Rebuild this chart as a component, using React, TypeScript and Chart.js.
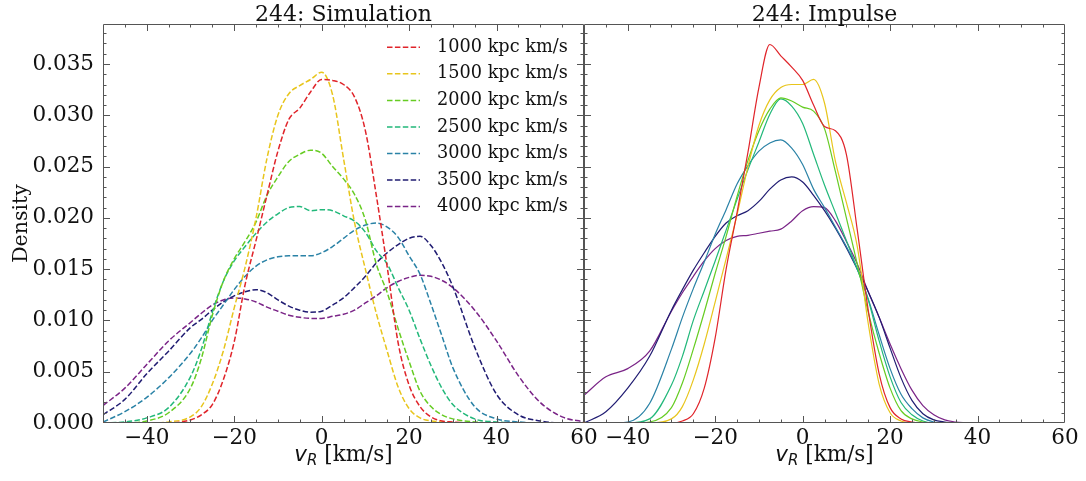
import { useEffect, useRef } from "react";
import { Chart, registerables } from "chart.js";

Chart.register(...registerables);

// ---------- data ----------
const seriesLabels = [
  "1000 kpc km/s",
  "1500 kpc km/s",
  "2000 kpc km/s",
  "2500 kpc km/s",
  "3000 kpc km/s",
  "3500 kpc km/s",
  "4000 kpc km/s",
];
const seriesColors = ["#e0242a", "#e8c51c", "#66cc22", "#22b87a", "#2a82a6", "#201c72", "#7a2487"];

const xSim = [-50, -45, -40, -35, -30, -27.5, -25, -22.5, -20, -17.5, -15, -12.5, -10, -7.5, -5, -2.5, 0, 2.5, 5, 7.5, 10, 12.5, 15, 17.5, 20, 22.5, 25, 27.5, 30, 35, 40, 45, 50, 55, 60];

const sim1000 = [0, 0, 0, 0, 0.0003, 0.0008, 0.0018, 0.0042, 0.0079, 0.0135, 0.0178, 0.0222, 0.0265, 0.0296, 0.0307, 0.0323, 0.0335, 0.0334, 0.033, 0.0318, 0.0285, 0.0222, 0.0152, 0.0078, 0.0037, 0.0016, 0.0006, 0.0002, 0.0001, 0, 0, 0, 0, 0, 0];
const sim1500 = [0, 0, 0, 0.0001, 0.0006, 0.0016, 0.0038, 0.007, 0.0112, 0.0152, 0.02, 0.0258, 0.03, 0.0321, 0.0329, 0.0335, 0.0342, 0.032, 0.0258, 0.0196, 0.015, 0.0107, 0.007, 0.0035, 0.0014, 0.0005, 0.0002, 0.0001, 0, 0, 0, 0, 0, 0, 0];
const sim2000 = [0, 0, 0.0002, 0.001, 0.0034, 0.0063, 0.0105, 0.0138, 0.016, 0.0177, 0.0196, 0.0222, 0.024, 0.0255, 0.0262, 0.0266, 0.0263, 0.025, 0.0238, 0.0223, 0.0198, 0.0155, 0.0127, 0.0092, 0.006, 0.0031, 0.0016, 0.0008, 0.0004, 0.0001, 0, 0, 0, 0, 0];
const sim2500 = [0, 0.0001, 0.0005, 0.0015, 0.0045, 0.0072, 0.0108, 0.0138, 0.0158, 0.0172, 0.0185, 0.0196, 0.0204, 0.021, 0.0211, 0.0207, 0.0208, 0.0207, 0.0202, 0.0197, 0.0186, 0.0168, 0.0155, 0.0132, 0.011, 0.0082, 0.0056, 0.0034, 0.0018, 0.0004, 0.0001, 0, 0, 0, 0];
const sim3000 = [0.0001, 0.0011, 0.0025, 0.0044, 0.0068, 0.0083, 0.01, 0.0115, 0.013, 0.0143, 0.0153, 0.0159, 0.0162, 0.0163, 0.0163, 0.0163, 0.0166, 0.0172, 0.018, 0.0188, 0.0193, 0.0195, 0.0191, 0.0181, 0.0163, 0.0145, 0.0116, 0.0085, 0.0054, 0.0016, 0.0004, 0.0001, 0, 0, 0];
const sim3500 = [0.0008, 0.0023, 0.0048, 0.007, 0.0093, 0.0101, 0.011, 0.0118, 0.0124, 0.0128, 0.013, 0.0127, 0.012, 0.0114, 0.011, 0.0108, 0.0109, 0.0115, 0.0122, 0.0132, 0.0143, 0.0156, 0.0166, 0.0174, 0.018, 0.0182, 0.0173, 0.0156, 0.0133, 0.0074, 0.0028, 0.0008, 0.0002, 0, 0];
const sim4000 = [0.0017, 0.0034, 0.0057, 0.008, 0.0098, 0.0107, 0.0115, 0.012, 0.0122, 0.0121, 0.0118, 0.0113, 0.0109, 0.0105, 0.0103, 0.0102, 0.0102, 0.0104, 0.0106, 0.011, 0.0117, 0.0124, 0.0132, 0.0138, 0.0142, 0.0144, 0.0143, 0.0139, 0.0132, 0.011, 0.008, 0.0046, 0.002, 0.0006, 0.0001];

const xImp = [-50, -45, -40, -35, -30, -27.5, -25, -22.5, -20, -17.5, -15, -12.5, -10, -7.5, -5, -2.5, 0, 2.5, 5, 7.5, 10, 12.5, 15, 17.5, 20, 22.5, 25, 27.5, 30, 32.5, 35, 37.5];

const imp1000 = [0, 0, 0, 0, 0, 0.0002, 0.0009, 0.0034, 0.0083, 0.015, 0.0205, 0.0264, 0.0327, 0.0369, 0.0358, 0.0347, 0.0334, 0.031, 0.0289, 0.0285, 0.0262, 0.0188, 0.011, 0.0048, 0.0015, 0.0004, 0.0001, 0, 0, 0, 0, 0];
const imp1500 = [0, 0, 0, 0, 0.0004, 0.0016, 0.0042, 0.0077, 0.0118, 0.016, 0.0203, 0.025, 0.029, 0.0315, 0.0327, 0.033, 0.033, 0.0335, 0.0312, 0.0255, 0.0215, 0.0172, 0.0097, 0.0038, 0.001, 0.0002, 0, 0, 0, 0, 0, 0];
const imp2000 = [0, 0, 0, 0.0001, 0.0015, 0.0039, 0.0072, 0.0108, 0.0146, 0.0182, 0.0221, 0.0256, 0.0285, 0.0306, 0.0317, 0.0314, 0.0308, 0.0304, 0.0287, 0.0245, 0.02, 0.0155, 0.0108, 0.0068, 0.0034, 0.0012, 0.0004, 0.0001, 0, 0, 0, 0];
const imp2500 = [0, 0, 0, 0.0004, 0.0037, 0.0065, 0.01, 0.0129, 0.0158, 0.0188, 0.0218, 0.0247, 0.0274, 0.0301, 0.0316, 0.0309, 0.0292, 0.0262, 0.0232, 0.0205, 0.0178, 0.015, 0.012, 0.008, 0.0045, 0.002, 0.0008, 0.0002, 0, 0, 0, 0];
const imp3000 = [0, 0, 0.0001, 0.0019, 0.0072, 0.0103, 0.0131, 0.0157, 0.0184, 0.0208, 0.0233, 0.0251, 0.0265, 0.0273, 0.0276, 0.0268, 0.0252, 0.0228, 0.021, 0.0191, 0.0172, 0.015, 0.0121, 0.0086, 0.0053, 0.0028, 0.0014, 0.0005, 0.0001, 0, 0, 0];
const imp3500 = [0, 0.0011, 0.0034, 0.0065, 0.011, 0.013, 0.0149, 0.0166, 0.0182, 0.0195, 0.0202, 0.0207, 0.0216, 0.0228, 0.0237, 0.024, 0.0235, 0.0222, 0.0207, 0.019, 0.0171, 0.015, 0.0128, 0.0103, 0.0073, 0.0044, 0.0022, 0.0009, 0.0003, 0.0001, 0, 0];
const imp4000 = [0.0027, 0.0045, 0.0053, 0.007, 0.0109, 0.0127, 0.0143, 0.0158, 0.017, 0.0178, 0.0182, 0.0183, 0.0185, 0.0187, 0.0189, 0.0197, 0.0207, 0.0211, 0.021, 0.0197, 0.0177, 0.0155, 0.0128, 0.0103, 0.0077, 0.0053, 0.0032, 0.0017, 0.0008, 0.0003, 0.0001, 0];

const simSeries = [sim1000, sim1500, sim2000, sim2500, sim3000, sim3500, sim4000];
const impSeries = [imp1000, imp1500, imp2000, imp2500, imp3000, imp3500, imp4000];

const panelTitles = ["244: Simulation", "244: Impulse"];
const xTickValues = [-40, -20, 0, 20, 40, 60];
const yTickValues = [0, 0.005, 0.01, 0.015, 0.02, 0.025, 0.03, 0.035];
const xMin = -50;
const xMax = 60;
const yMax = 0.0389;

// ---------- styling ----------
const SERIF = "'DejaVu Serif', serif";
const SANS = "'DejaVu Sans', sans-serif";
const TEXT = "#111111";
const SPINE = "#555555";
const DASH = [5.5, 2.4];

const framePlugin = {
  id: "frame",
  afterDatasetsDraw(chart: any) {
    const ctx = chart.ctx as CanvasRenderingContext2D;
    const area = chart.chartArea;
    const yScale = chart.scales.y;
    const panels = [chart.scales.x1, chart.scales.x2];
    ctx.save();
    ctx.strokeStyle = SPINE;
    ctx.lineWidth = 1;
    const major = 7;
    const minor = 3.5;
    panels.forEach((xs: any, pi: number) => {
      const L = xs.left;
      const R = xs.right;
      const T = area.top;
      const B = area.bottom;
      ctx.strokeStyle = SPINE;
      ctx.lineWidth = 1;
      ctx.beginPath();
      ctx.rect(L + 0.5, T + 0.5, R - L - 1, B - T - 1);
      ctx.stroke();
      ctx.beginPath();
      for (let v = xMin; v <= xMax + 1e-9; v += 5) {
        const isMajor = xTickValues.includes(v);
        const len = isMajor ? major : minor;
        const px = Math.round(xs.getPixelForValue(v)) + 0.5;
        if (px <= L + 1 || px >= R - 1) continue;
        ctx.moveTo(px, B);
        ctx.lineTo(px, B - len);
        ctx.moveTo(px, T);
        ctx.lineTo(px, T + len);
      }
      for (let i = 0; i <= 38; i++) {
        const v = i * 0.001;
        const isMajor = i % 5 === 0;
        const len = isMajor ? major : minor;
        const py = Math.round(yScale.getPixelForValue(v)) + 0.5;
        if (py >= B - 1 || py <= T + 1) continue;
        ctx.moveTo(L, py);
        ctx.lineTo(L + len, py);
        ctx.moveTo(R, py);
        ctx.lineTo(R - len, py);
      }
      ctx.stroke();

      ctx.fillStyle = TEXT;
      ctx.font = `22px ${SERIF}`;
      ctx.textAlign = "center";
      ctx.textBaseline = "alphabetic";
      ctx.fillText(panelTitles[pi], (L + R) / 2, 21);

      const cx = (L + R) / 2;
      const base = 461;
      ctx.textAlign = "left";
      ctx.font = `italic 21.5px ${SANS}`;
      const wv = ctx.measureText("v").width;
      ctx.font = `italic 15px ${SANS}`;
      const wr = ctx.measureText("R").width;
      ctx.font = `21.5px ${SERIF}`;
      const rest = " [km/s]";
      const wrest = ctx.measureText(rest).width;
      let x0 = cx - (wv + wr + wrest) / 2;
      ctx.font = `italic 21.5px ${SANS}`;
      ctx.fillText("v", x0, base);
      x0 += wv;
      ctx.font = `italic 15px ${SANS}`;
      ctx.fillText("R", x0, base + 4);
      x0 += wr;
      ctx.font = `21.5px ${SERIF}`;
      ctx.fillText(rest, x0, base);
    });

    ctx.save();
    ctx.translate(27, (area.top + area.bottom) / 2);
    ctx.rotate(-Math.PI / 2);
    ctx.fillStyle = TEXT;
    ctx.font = `20.5px ${SERIF}`;
    ctx.textAlign = "center";
    ctx.textBaseline = "alphabetic";
    ctx.fillText("Density", 0, 0);
    ctx.restore();

    const lx0 = 387;
    const lx1 = 420;
    const ly0 = 47.3;
    const dy = 26.55;
    seriesLabels.forEach((lab, i) => {
      const y = ly0 + dy * i;
      ctx.strokeStyle = seriesColors[i];
      ctx.lineWidth = 1.5;
      ctx.setLineDash(DASH);
      ctx.beginPath();
      ctx.moveTo(lx0, y);
      ctx.lineTo(lx1, y);
      ctx.stroke();
      ctx.setLineDash([]);
      ctx.fillStyle = TEXT;
      ctx.font = `17.7px ${SERIF}`;
      ctx.textAlign = "left";
      ctx.textBaseline = "middle";
      ctx.fillText(lab, 437, y);
    });
    ctx.restore();
  },
};

const minus = (v: number | string) => String(v).replace("-", "\u2212");

function xScale() {
  return {
    type: "linear" as const,
    position: "bottom" as const,
    stack: "panels",
    stackWeight: 1,
    min: xMin,
    max: xMax,
    afterBuildTicks: (s: any) => {
      s.ticks = xTickValues.map((v) => ({ value: v }));
    },
    afterFit: (s: any) => {
      s.height = 58;
    },
    grid: { display: false, drawTicks: false },
    border: { display: false },
    ticks: {
      color: TEXT,
      font: { family: SERIF, size: 21.5 },
      padding: 3,
      maxRotation: 0,
      autoSkip: false,
      callback: (v: any) => minus(v),
    },
  };
}

export default function App() {
  const ref = useRef<HTMLCanvasElement | null>(null);
  useEffect(() => {
    if (!ref.current) return;
    const datasets: any[] = [];
    simSeries.forEach((ys, i) => {
      datasets.push({
        label: seriesLabels[i],
        xAxisID: "x1",
        yAxisID: "y",
        data: xSim.map((x, k) => ({ x, y: ys[k] })),
        borderColor: seriesColors[i],
        borderWidth: 1.5,
        borderDash: DASH,
        fill: false,
        pointRadius: 0,
      });
    });
    impSeries.forEach((ys, i) => {
      datasets.push({
        label: seriesLabels[i] + " (impulse)",
        xAxisID: "x2",
        yAxisID: "y",
        data: xImp.map((x, k) => ({ x, y: ys[k] })),
        borderColor: seriesColors[i],
        borderWidth: 1.2,
        fill: false,
        pointRadius: 0,
      });
    });
    const chart = new Chart(ref.current, {
      type: "line",
      data: { datasets },
      options: {
        animation: false,
        responsive: false,
        maintainAspectRatio: false,
        events: [],
        layout: { padding: { left: 0, right: 21, top: 24, bottom: 0 } },
        elements: {
          point: { radius: 0 },
          line: { tension: 0.4, cubicInterpolationMode: "monotone" },
        },
        plugins: {
          legend: { display: false },
          tooltip: { enabled: false },
          title: { display: false },
        },
        scales: {
          x1: xScale(),
          x2: xScale(),
          y: {
            type: "linear",
            position: "left",
            min: 0,
            max: yMax,
            afterBuildTicks: (s: any) => {
              s.ticks = yTickValues.map((v) => ({ value: v }));
            },
            afterFit: (s: any) => {
              s.width = 103;
            },
            grid: { display: false, drawTicks: false },
            border: { display: false },
            ticks: {
              color: TEXT,
              font: { family: SERIF, size: 21.5 },
              padding: 9,
              callback: (v: any) => Number(v).toFixed(3),
            },
          },
        },
      } as any,
      plugins: [framePlugin],
    });
    return () => chart.destroy();
  }, []);
  return (
    <div style={{ position: "fixed", left: 0, top: 0, width: 1086, height: 481, background: "#fff" }}>
      <canvas ref={ref} width={1086} height={481} style={{ display: "block" }} />
    </div>
  );
}
